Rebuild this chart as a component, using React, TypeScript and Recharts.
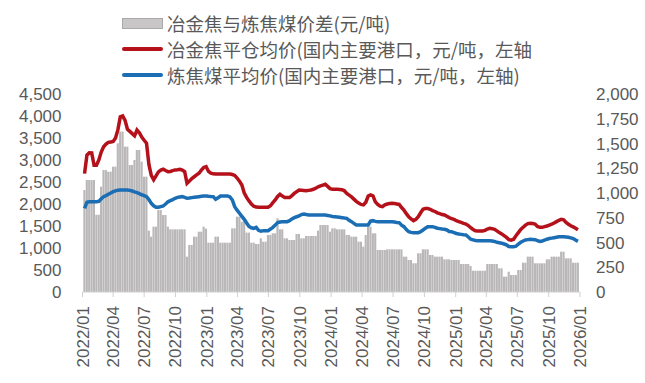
import { ComposedChart, Bar, Line, XAxis, YAxis } from 'recharts';

// weekly observations, first one on 2022-01-07
const FIRST_DAY = 6;

const cokePrice = [
  2690, 3110, 3165, 3160, 2880, 2880, 3000, 3180, 3300, 3360,
  3400, 3410, 3420, 3500, 3690, 3980, 4000, 3900, 3700, 3650,
  3600, 3550, 3680, 3620, 3520, 3450, 3380, 2900, 2650, 2550,
  2640, 2730, 2770, 2790, 2760, 2735, 2740, 2760, 2775, 2780,
  2790, 2770, 2735, 2470, 2520, 2580, 2620, 2660, 2700, 2770,
  2830, 2850, 2740, 2700, 2685, 2680, 2680, 2680, 2680, 2680,
  2680, 2680, 2670, 2650, 2590, 2520, 2430, 2250, 2150, 2070,
  2000, 1950, 1930, 1925, 1925, 1925, 1925, 1925, 1960, 2030,
  2090, 2170, 2220, 2180, 2145, 2145, 2145, 2190, 2240, 2280,
  2315, 2310, 2305, 2300, 2310, 2320, 2335, 2360, 2390, 2410,
  2430, 2450, 2400, 2350, 2335, 2335, 2333, 2330, 2325, 2300,
  2240, 2200, 2160, 2110, 2060, 2020, 1990, 1980, 2040, 2180,
  2205, 2185, 2050, 1990, 1950, 1940, 1980, 2000, 2010, 2015,
  2010, 2000, 1990, 1920, 1860, 1780, 1710, 1660, 1620, 1650,
  1710, 1800, 1880, 1900, 1900, 1880, 1850, 1830, 1800, 1780,
  1760, 1750, 1720, 1690, 1670, 1650, 1620, 1600, 1580, 1560,
  1545, 1510, 1460, 1420, 1390, 1385, 1385, 1385, 1400, 1430,
  1447, 1440, 1424, 1390, 1350, 1320, 1280, 1240, 1190, 1180,
  1200, 1280, 1350, 1420, 1470, 1520, 1555, 1561, 1555, 1545,
  1490, 1470, 1470, 1485, 1500, 1520, 1540, 1570, 1600, 1630,
  1650, 1640, 1580, 1540, 1505, 1480, 1450, 1415,
];

const coalPrice = [
  1900, 2040, 2050, 2053, 2053, 2053, 2060, 2120, 2167, 2190,
  2220, 2250, 2280, 2300, 2315, 2318, 2318, 2318, 2318, 2310,
  2295, 2275, 2258, 2235, 2210, 2190, 2165, 2100, 2015, 1960,
  1925, 1925, 1940, 1955, 2000, 2050, 2076, 2100, 2130, 2150,
  2160, 2167, 2150, 2129, 2135, 2145, 2152, 2160, 2167, 2175,
  2182, 2182, 2175, 2170, 2167, 2106, 2140, 2180, 2182, 2182,
  2182, 2160, 2091, 1939, 1860, 1790, 1720, 1650, 1570, 1490,
  1460, 1447, 1470, 1400, 1380, 1394, 1394, 1394, 1430, 1470,
  1520, 1576, 1590, 1598, 1598, 1598, 1620, 1660, 1690, 1710,
  1730, 1760, 1773, 1760, 1750, 1750, 1750, 1750, 1750, 1750,
  1750, 1750, 1740, 1730, 1715, 1712, 1705, 1697, 1690, 1680,
  1674, 1630, 1598, 1560, 1523, 1523, 1523, 1523, 1523, 1523,
  1610, 1621, 1605, 1598, 1598, 1598, 1598, 1598, 1598, 1598,
  1590, 1580, 1576, 1520, 1485, 1420, 1371, 1355, 1348, 1348,
  1348, 1370, 1409, 1450, 1485, 1485, 1485, 1470, 1450, 1440,
  1430, 1424, 1410, 1375, 1371, 1350, 1330, 1318, 1310, 1300,
  1295, 1250, 1200, 1185, 1170, 1167, 1167, 1167, 1167, 1167,
  1167, 1159, 1150, 1130, 1120, 1110, 1091, 1070, 1035, 1030,
  1030, 1040, 1090, 1130, 1160, 1182, 1190, 1197, 1195, 1190,
  1170, 1150, 1160, 1180, 1200, 1215, 1225, 1235, 1245, 1255,
  1258, 1255, 1250, 1245, 1230, 1215, 1180, 1150,
];

const priceSpread = [
  1030, 1131, 1131, 1131, 1131, 780, 780, 1064, 1232, 1232,
  1215, 1215, 1266, 1266, 1502, 1620, 1620, 1468, 1468, 1283,
  1283, 1333, 1434, 1434, 1316, 1165, 1165, 620, 559, 660,
  660, 828, 828, 778, 778, 660, 633, 633, 633, 633,
  633, 633, 633, 357, 475, 475, 559, 559, 609, 609,
  660, 640, 498, 498, 498, 559, 559, 498, 498, 498,
  498, 498, 643, 643, 761, 761, 710, 710, 600, 600,
  498, 498, 485, 485, 542, 508, 508, 576, 576, 593,
  593, 744, 633, 633, 542, 542, 525, 525, 525, 586,
  586, 542, 542, 566, 566, 566, 566, 566, 620, 677,
  677, 677, 677, 609, 643, 643, 633, 633, 633, 633,
  576, 576, 559, 559, 559, 508, 508, 458, 576, 660,
  660, 593, 593, 424, 424, 424, 424, 431, 431, 431,
  431, 431, 431, 431, 357, 357, 323, 323, 290, 290,
  391, 391, 431, 431, 431, 374, 374, 357, 357, 357,
  357, 330, 330, 330, 323, 323, 323, 323, 283, 283,
  283, 283, 263, 215, 215, 215, 215, 215, 215, 283,
  283, 283, 283, 283, 239, 239, 155, 155, 205, 172,
  172, 172, 222, 222, 296, 296, 357, 357, 357, 290,
  290, 290, 290, 290, 330, 330, 357, 357, 357, 357,
  407, 407, 340, 340, 340, 296, 296, 296,
];

const tickLabels = [
  '2022/01', '2022/04', '2022/07', '2022/10',
  '2023/01', '2023/04', '2023/07', '2023/10',
  '2024/01', '2024/04', '2024/07', '2024/10',
  '2025/01', '2025/04', '2025/07', '2025/10',
  '2026/01',
];

const leftTicks = [0, 500, 1000, 1500, 2000, 2500, 3000, 3500, 4000, 4500];
const rightTicks = [0, 250, 500, 750, 1000, 1250, 1500, 1750, 2000];

const GRAY = '#595959';
const RED = '#b4111b';
const BLUE = '#1b6db4';
const BAR = '#b9b7b7';

const toDay = (label: string) => {
  const [y, m] = label.split('/').map(Number);
  return (Date.UTC(y, m - 1, 1) - Date.UTC(2022, 0, 1)) / 86400000;
};
const tickDays = tickLabels.map(toDay);
const lastDay = tickDays[tickDays.length - 1];

const data = priceSpread.map((s, i) => ({
  day: FIRST_DAY + 7 * i,
  spread: s,
  coke: cokePrice[i],
  coal: coalPrice[i],
}));

const fmt = (v: number) => v.toLocaleString('en-US');
const axisFont = { fill: GRAY, fontSize: 17, fontFamily: 'Liberation Sans' };

function DateTick(props: any) {
  const { x, y, payload } = props;
  const label = tickLabels[tickDays.indexOf(payload.value)] ?? '';
  return (
    <text
      transform={`translate(${x + 6},${y + 9}) rotate(-90)`}
      textAnchor="end"
      fill={GRAY}
      fontSize={17}
      fontFamily="Liberation Sans"
    >
      {label}
    </text>
  );
}

const legendRows = [
  { label: '冶金焦与炼焦煤价差(元/吨)', kind: 'bar', color: BAR },
  { label: '冶金焦平仓均价(国内主要港口，元/吨，左轴', kind: 'line', color: RED },
  { label: '炼焦煤平均价(国内主要港口，元/吨，左轴)', kind: 'line', color: BLUE },
];

function ChartLegend() {
  return (
    <div style={{ position: 'absolute', left: 122, top: 10, fontFamily: '"Noto Sans CJK SC"', fontSize: 18.5, color: GRAY }}>
      {legendRows.map((r) => (
        <div key={r.label} style={{ display: 'flex', alignItems: 'center', height: 26, whiteSpace: 'nowrap' }}>
          {r.kind === 'bar' ? (
            <span style={{ width: 41, height: 11, background: '#c8c6c6', border: '1px solid #aaa8a8', boxSizing: 'border-box' }} />
          ) : (
            <span style={{ width: 41, height: 3.5, background: r.color, borderRadius: 2 }} />
          )}
          <span style={{ marginLeft: 4 }}>{r.label}</span>
        </div>
      ))}
    </div>
  );
}

export default function App() {
  return (
    <div style={{ position: 'absolute', left: 0, top: 0, width: 645, height: 383, background: '#fff' }}>
      <ChartLegend />
      <ComposedChart width={645} height={383} data={data} margin={{ top: 94, right: 0, bottom: 0, left: 0 }}>
        <XAxis
          dataKey="day"
          type="number"
          domain={[0, lastDay]}
          ticks={tickDays}
          interval={0}
          height={91}
          tickSize={5}
          tickMargin={0}
          tickLine={{ stroke: '#d0d0d0' }}
          axisLine={{ stroke: '#d0d0d0' }}
          tick={<DateTick />}
        />
        <YAxis
          yAxisId="left"
          width={82.5}
          domain={[0, 4500]}
          ticks={leftTicks}
          interval={0}
          axisLine={false}
          tickLine={false}
          tickSize={0}
          tickMargin={21}
          tickFormatter={fmt}
          tick={axisFont}
        />
        <YAxis
          yAxisId="right"
          orientation="right"
          width={65}
          domain={[0, 2000]}
          ticks={rightTicks}
          interval={0}
          axisLine={false}
          tickLine={false}
          tickSize={0}
          tickMargin={16}
          tickFormatter={fmt}
          tick={{ ...axisFont, textAnchor: 'start' }}
        />
        <Bar yAxisId="right" dataKey="spread" fill={BAR} barSize={2.4} isAnimationActive={false} />
        <Line yAxisId="left" type="linear" dataKey="coke" stroke={RED} strokeWidth={3.5} dot={false} isAnimationActive={false} />
        <Line yAxisId="left" type="linear" dataKey="coal" stroke={BLUE} strokeWidth={3.5} dot={false} isAnimationActive={false} />
      </ComposedChart>
    </div>
  );
}
